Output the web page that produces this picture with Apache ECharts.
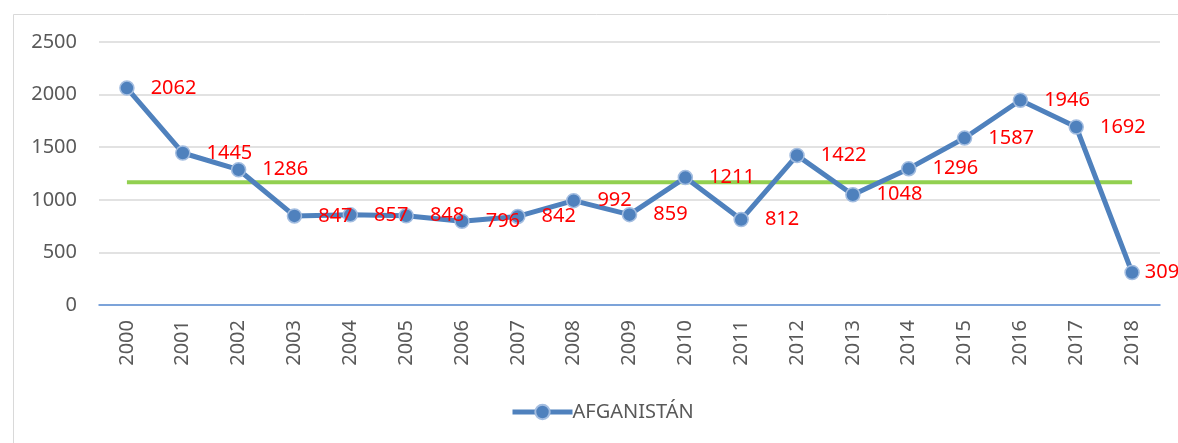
<!DOCTYPE html>
<html>
<head>
<meta charset="utf-8">
<script src="https://cdn.jsdelivr.net/npm/echarts@6/dist/echarts.min.js"></script>
<style>
html,body{margin:0;padding:0;background:#fff;}
#chart{width:1178px;height:443px;}
</style>
</head>
<body>
<div id="chart"></div>
<script>
const years = ['2000','2001','2002','2003','2004','2005','2006','2007','2008','2009','2010','2011','2012','2013','2014','2015','2016','2017','2018'];
const afganistan = [2062,1445,1286,847,857,848,796,842,992,859,1211,812,1422,1048,1296,1587,1946,1692,309];
const promedio = [1166,1166,1166,1166,1166,1166,1166,1166,1166,1166,1166,1166,1166,1166,1166,1166,1166,1166,1166];
const yTicks = { min: 0, max: 2500, interval: 500 };
const seriesName = 'AFGANISTÁN';

const FONT = 'Noto Sans';
const lastIdx = afganistan.length - 1;
const mainData = afganistan.map((v, i) => i === lastIdx ? { value: v, label: { distance: 5 } } : v);

const chart = echarts.init(document.getElementById('chart'), null, {renderer: 'canvas'});
chart.setOption({
  animation: false,
  backgroundColor: '#ffffff',
  textStyle: { fontFamily: FONT },
  graphic: [{
    type: 'rect', left: 11, top: 12, silent: true, z: -10,
    shape: { width: 1300, height: 600 },
    style: { fill: 'none', stroke: '#d9d9d9', lineWidth: 1 }
  }],
  grid: { left: 99, right: 18, top: 42, bottom: 138, containLabel: false, outerBoundsMode: 'none' },
  legend: {
    left: 505, top: 397,
    itemWidth: 60, itemHeight: 18, itemGap: 10,
    data: [seriesName],
    lineStyle: { width: 5 },
    textStyle: { color: '#595959', fontSize: 20, fontFamily: FONT, padding: [0,0,0,-5] }
  },
  xAxis: {
    type: 'category', data: years, boundaryGap: true,
    axisLine: { show: true, lineStyle: { color: '#5b8ed6', width: 1.5 } },
    axisTick: { show: false },
    axisLabel: { rotate: 90, color: '#595959', fontSize: 20, fontFamily: FONT, margin: 15 },
    splitLine: { show: false }
  },
  yAxis: {
    type: 'value', min: yTicks.min, max: yTicks.max, interval: yTicks.interval,
    axisLine: { show: false }, axisTick: { show: false },
    axisLabel: { color: '#595959', fontSize: 20, fontFamily: FONT, margin: 22, formatter: v => String(v) },
    splitLine: { lineStyle: { color: '#d9d9d9', width: 1.5 } }
  },
  series: [
    {
      name: seriesName, type: 'line', data: mainData,
      symbol: 'circle', symbolSize: 14, z: 3,
      lineStyle: { color: '#4f81bd', width: 5 },
      itemStyle: { color: '#4f81bd', borderColor: '#a3bde0', borderWidth: 1.5 },
      label: { show: true, position: 'right', distance: 16, color: '#ff0000', fontSize: 20, fontFamily: FONT }
    },
    {
      name: 'Promedio', type: 'line', data: promedio,
      symbol: 'none', z: 2, silent: true,
      lineStyle: { color: '#92d050', width: 4 },
      itemStyle: { color: '#92d050' }
    }
  ]
});
</script>
</body>
</html>
